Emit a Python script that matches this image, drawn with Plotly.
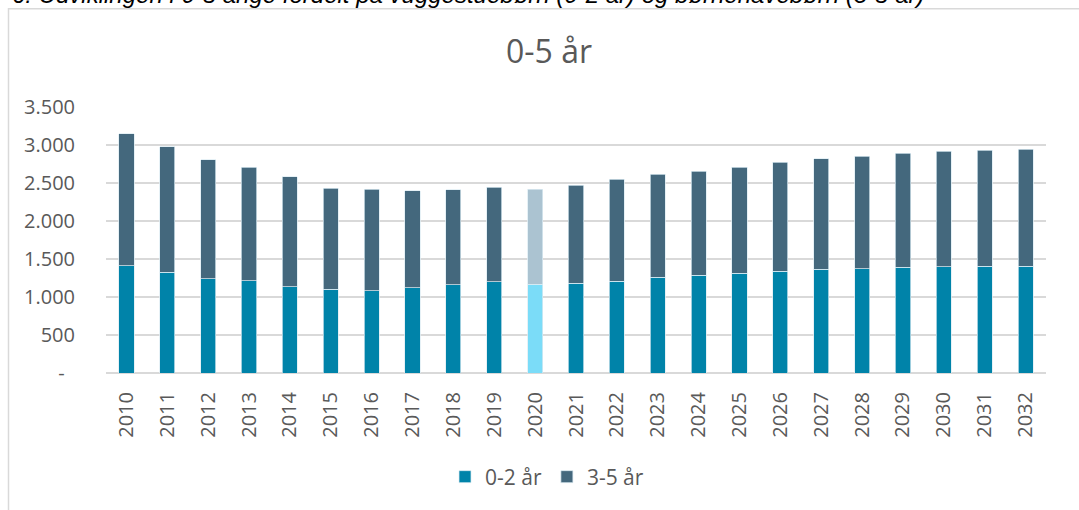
import plotly.graph_objects as go

years = [str(y) for y in range(2010, 2033)]
total = [3149, 2978, 2806, 2706, 2582, 2429, 2420, 2398, 2411, 2447, 2420,
         2473, 2548, 2614, 2657, 2706, 2772, 2820, 2855, 2890, 2917, 2934, 2947]
age_0_2 = [1410, 1323, 1243, 1217, 1138, 1099, 1080, 1125, 1159, 1199, 1168,
           1178, 1208, 1257, 1287, 1314, 1340, 1362, 1375, 1389, 1397, 1402, 1402]
age_3_5 = [t - a for t, a in zip(total, age_0_2)]
highlight_year = "2020"

tick_vals = [0, 500, 1000, 1500, 2000, 2500, 3000, 3500]
tick_text = ["-\u00a0\u00a0", "500", "1.000", "1.500", "2.000", "2.500", "3.000", "3.500"]

c02, c02_hl = "#0083A9", "#7BDCF8"
c35, c35_hl = "#44687D", "#ABC3D1"

font_family = "Open Sans"
grey = "#595959"

fig = go.Figure()
fig.add_trace(go.Bar(
    x=years, y=age_0_2, name="0-2 år",
    marker=dict(color=[c02_hl if y == highlight_year else c02 for y in years],
                line=dict(color="rgba(220,235,242,0.9)", width=0.8)),
))
fig.add_trace(go.Bar(
    x=years, y=age_3_5, name="3-5 år",
    marker=dict(color=[c35_hl if y == highlight_year else c35 for y in years],
                line=dict(color="rgba(220,235,242,0.9)", width=0.8)),
))

L, R, T, B = 106, 33, 107, 137
W, H = 1079, 510
pw, ph = W - L - R, H - T - B

def px(x):
    return (x - L) / pw

def py(y):
    return (H - B - y) / ph

fig.update_layout(
    width=W, height=H,
    margin=dict(l=L, r=R, t=T, b=B, pad=0, autoexpand=False),
    barmode="stack", bargap=0.63,
    plot_bgcolor="white", paper_bgcolor="white",
    font=dict(family=font_family, color=grey, size=20),
    title=dict(text="0-5 år", x=549 / W, xref="container", xanchor="center",
               y=1 - 52 / H, yref="container", yanchor="middle",
               font=dict(size=32, color=grey, family=font_family)),
    showlegend=True,
    legend=dict(orientation="h", x=px(547), xanchor="center", y=py(477), yanchor="middle",
                font=dict(size=21, color=grey), traceorder="normal",
                itemwidth=30),
    xaxis=dict(type="category", tickangle=-90, showgrid=False,
               ticks="outside", ticklen=10, tickcolor="rgba(0,0,0,0)",
               tickfont=dict(size=20, color=grey), showline=False),
    yaxis=dict(range=[0, 3500], tickvals=tick_vals, ticktext=tick_text,
               showgrid=True, gridcolor="#D9D9D9", gridwidth=1.5,
               zeroline=True, zerolinecolor="#D9D9D9", zerolinewidth=1.5,
               ticks="outside", ticklen=26, tickcolor="rgba(0,0,0,0)",
               tickfont=dict(size=20, color=grey), showline=False),
    shapes=[dict(type="rect", xref="paper", yref="paper",
                 x0=px(8.5), x1=px(1100), y0=py(530), y1=py(8.7),
                 line=dict(color="#D9D9D9", width=1.5), fillcolor="rgba(0,0,0,0)",
                 layer="below")],
    annotations=[dict(text="6. Udviklingen i 0-5 årige fordelt på vuggestuebørn (0-2 år) og børnehavebørn (3-5 år)",
                      xref="paper", yref="paper", x=px(10), y=py(-6),
                      xanchor="left", yanchor="middle", showarrow=False,
                      font=dict(family="Liberation Sans", size=24, color="#000000", style="italic"))],
)

fig.write_html("out.html", config={"displayModeBar": False},
               post_script="document.body.style.margin='0';document.body.style.overflow='hidden';")
